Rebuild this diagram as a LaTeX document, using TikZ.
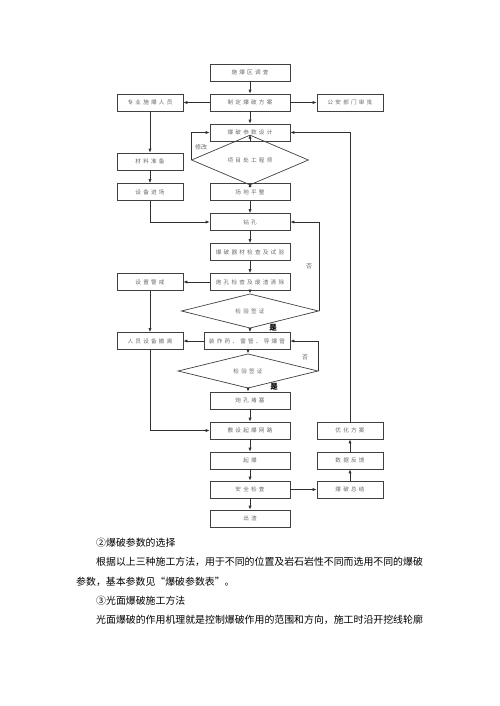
\documentclass[tikz,border=0pt]{standalone}
\usepackage{fontspec}
\usetikzlibrary{shapes.geometric,arrows.meta}
\newfontfamily\cjk{Noto Sans CJK SC}
\newfontfamily\cjksp[LetterSpace=40]{Noto Sans CJK SC}
\definecolor{boxc}{HTML}{404040}
\definecolor{txtc}{HTML}{6A6A6A}
\definecolor{linec}{HTML}{303030}
\begin{document}
\begin{tikzpicture}[x=1pt,y=-1pt,
  box/.style={draw=boxc, line width=0.7pt, minimum height=17pt, inner sep=0pt,
    font={\cjksp\fontsize{5.6}{6}\selectfont}, text=txtc},
  mbox/.style={box, minimum width=80pt},
  sbox/.style={box, minimum width=66pt},
  dia/.style={diamond, draw=boxc, line width=0.7pt, inner sep=0pt,
    font={\cjksp\fontsize{5.6}{6}\selectfont}, text=txtc},
  arr/.style={draw=linec, line width=0.7pt, -{Latex[length=4pt,width=3.2pt]}},
  lab/.style={inner sep=0pt, font={\cjk\fontsize{6}{7}\selectfont}, text=txtc},
  yes/.style={inner sep=0pt, font={\cjk\bfseries\fontsize{7.5}{8}\selectfont}, text=black},
  body/.style={inner sep=0pt, anchor=west, font={\cjk\fontsize{9.9}{12}\selectfont}, text=black}]
\useasboundingbox (0,0) rectangle (500,706);
\fill[white] (0,0) rectangle (500,706);
% main column
\node[mbox] (a1) at (250,72.5) {施爆区调查};
\node[mbox] (a2) at (250,102.5) {制定爆破方案};
\node[mbox] (a3) at (250,132.5) {爆破参数设计};
\node[dia, minimum width=117pt, minimum height=26pt] (d1) at (250,160) {项目处工程师};
\node[mbox] (a4) at (250,192) {场地平整};
\node[mbox] (a5) at (250,222) {钻孔};
\node[mbox] (a6) at (250,252) {爆破器材检查及试验};
\node[mbox] (a7) at (250,282) {炮孔检查及废渣清除};
\node[dia, minimum width=137pt, minimum height=24pt] (d2) at (250,311) {检验签证};
\node[box, minimum width=86pt] (a8) at (247,341) {装炸药、雷管、导爆管};
\node[dia, minimum width=140pt, minimum height=24pt] (d3) at (248,371) {检验签证};
\node[mbox] (a9) at (250,400.5) {炮孔堵塞};
\node[mbox] (a10) at (250,430.5) {敷设起爆网路};
\node[mbox] (a11) at (250,460.5) {起爆};
\node[mbox] (a12) at (250,489.5) {安全检查};
\node[mbox] (a13) at (250,518.5) {出渣};
% left column
\node[sbox] (b1) at (150,102.5) {专业施爆人员};
\node[sbox] (b2) at (150,161.5) {材料准备};
\node[sbox] (b3) at (150,192) {设备进场};
\node[sbox] (b4) at (150,282) {设置警戒};
\node[sbox] (b5) at (150,341) {人员设备撤离};
% right column
\node[sbox] (c1) at (350,102.5) {公安部门审批};
\node[sbox] (c2) at (350,489.5) {爆破总结};
\node[sbox] (c3) at (350,460.5) {数据反馈};
\node[sbox] (c4) at (350,430.5) {优化方案};
% labels
\node[lab] (l1) at (201,147) {修改};
\node[lab] (l2) at (309,266) {否};
\node[yes] (l3) at (273,328) {是};
\node[lab] (l4) at (305,357) {否};
\node[yes] (l5) at (274,387) {是};
% main arrows
\draw[arr] (a1) -- (a2);
\draw[arr] (a2) -- (a3);
\draw[arr] (a3) -- (d1);
\draw[arr] (d1) -- (a4);
\draw[arr] (a4) -- (a5);
\draw[arr] (a5) -- (a6);
\draw[arr] (a6) -- (a7);
\draw[arr] (a7) -- (d2);
\draw[arr] (d2.south) -- (d2.south |- a8.north);
\draw[arr] (a8.south -| d3.north) -- (d3.north);
\draw[arr] (d3.south) -- (d3.south |- a9.north);
\draw[arr] (a9) -- (a10);
\draw[arr] (a10) -- (a11);
\draw[arr] (a11) -- (a12);
\draw[arr] (a12) -- (a13);
% side arrows
\draw[arr] (a2) -- (b1);
\draw[arr] (a2) -- (c1);
\draw[arr] (b1) -- (b2);
\draw[arr] (b2) -- (b3);
\draw[arr] (b3.south) |- (a5.west);
\draw[arr] (d1.west) |- (a3.west);
\draw[arr] (d2.east) |- (a5.east);
\draw[arr] (d3.east) |- (a8.east);
\draw[arr] (a7) -- (b4);
\draw[arr] (b4) -- (b5);
\draw[arr] (a8) -- (b5);
\draw[arr] (b5.south) |- (a10.west);
\draw[arr] (a12) -- (c2);
\draw[arr] (c2) -- (c3);
\draw[arr] (c3) -- (c4);
\draw[arr] (c4.north) |- (a3.east);
% body text
\node[body] (t1) at (96,543) {②爆破参数的选择};
\node[body] (t2) at (96,562) {根据以上三种施工方法，用于不同的位置及岩石岩性不同而选用不同的爆破};
\node[body] (t3) at (76,582) {参数，基本参数见“爆破参数表”。};
\node[body] (t4) at (96,601) {③光面爆破施工方法};
\node[body] (t5) at (96,620) {光面爆破的作用机理就是控制爆破作用的范围和方向，施工时沿开挖线轮廓};
\end{tikzpicture}
\end{document}
